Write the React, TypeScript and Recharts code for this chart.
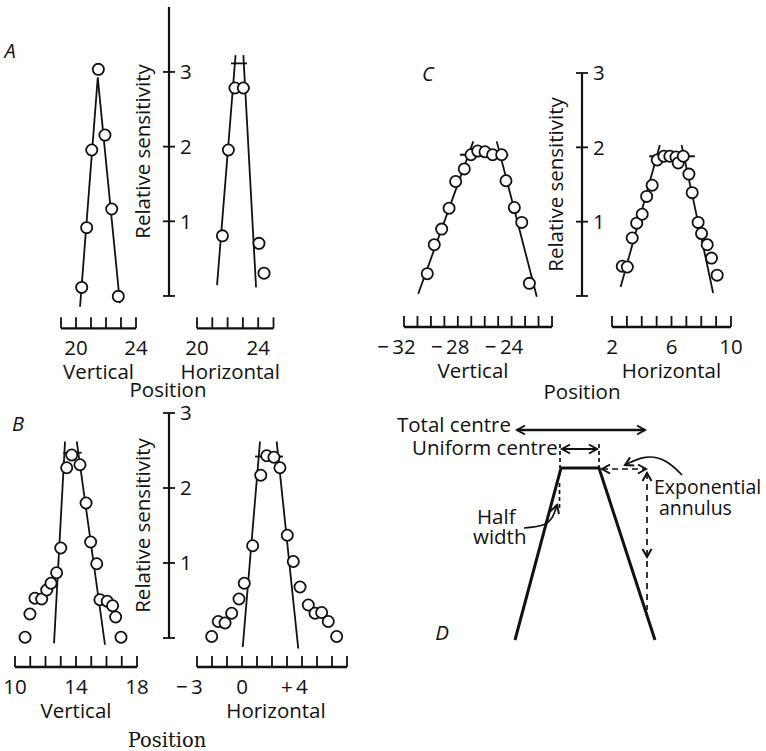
import React from 'react';
import { ComposedChart, Line, Scatter, XAxis, YAxis } from 'recharts';

const FONT = "'Open Sans', 'DejaVu Sans', sans-serif";
const SERIF = "'DejaVu Serif', serif";
const INK = '#111';
const FS = 20.5;

type Pt = { x: number; y: number };

// ---- panel A (position in deg, relative sensitivity) ----
const aVertPoints: Pt[] = [
  { x: 20.38, y: 0.12 }, { x: 20.71, y: 0.92 }, { x: 21.05, y: 1.96 }, { x: 21.49, y: 3.04 },
  { x: 21.93, y: 2.16 }, { x: 22.38, y: 1.17 }, { x: 22.82, y: 0.0 },
];
const aVertFits: Pt[][] = [
  [{ x: 20.27, y: -0.14 }, { x: 21.45, y: 2.93 }],
  [{ x: 21.45, y: 2.93 }, { x: 22.93, y: -0.09 }],
];
const aHorPoints: Pt[] = [
  { x: 21.66, y: 0.81 }, { x: 22.05, y: 1.96 }, { x: 22.48, y: 2.79 },
  { x: 23.03, y: 2.79 }, { x: 24.05, y: 0.71 }, { x: 24.38, y: 0.31 },
];
const aHorFits: Pt[][] = [
  [{ x: 21.31, y: 0.15 }, { x: 22.52, y: 3.23 }],
  [{ x: 23.03, y: 3.23 }, { x: 23.86, y: 0.12 }],
  [{ x: 22.22, y: 3.12 }, { x: 23.27, y: 3.12 }],
];
const aVertTicks = [19, 20, 21, 22, 23, 24];
const aVertLabels: Record<number, string> = { 20: '20', 24: '24' };
const aHorTicks = [20, 21, 22, 23, 24, 25];
const aHorLabels: Record<number, string> = { 20: '20', 24: '24' };

// ---- panel B ----
const bVertPoints: Pt[] = [
  { x: 10.66, y: 0.01 }, { x: 10.98, y: 0.32 }, { x: 11.31, y: 0.53 }, { x: 11.75, y: 0.52 },
  { x: 12.08, y: 0.64 }, { x: 12.36, y: 0.73 }, { x: 12.73, y: 0.87 }, { x: 13.0, y: 1.2 },
  { x: 13.39, y: 2.27 }, { x: 13.72, y: 2.44 }, { x: 14.26, y: 2.31 }, { x: 14.66, y: 1.8 },
  { x: 14.96, y: 1.28 }, { x: 15.36, y: 0.99 }, { x: 15.57, y: 0.51 }, { x: 16.05, y: 0.49 },
  { x: 16.4, y: 0.43 }, { x: 16.6, y: 0.28 }, { x: 16.95, y: 0.01 },
];
const bVertFits: Pt[][] = [
  [{ x: 12.56, y: -0.07 }, { x: 13.28, y: 2.62 }],
  [{ x: 14.05, y: 2.62 }, { x: 15.9, y: -0.09 }],
  [{ x: 13.17, y: 2.47 }, { x: 14.37, y: 2.47 }],
];
const bHorPoints: Pt[] = [
  { x: -2.02, y: 0.02 }, { x: -1.58, y: 0.22 }, { x: -1.13, y: 0.2 }, { x: -0.69, y: 0.33 },
  { x: -0.2, y: 0.52 }, { x: 0.15, y: 0.73 }, { x: 0.71, y: 1.23 }, { x: 1.25, y: 2.17 },
  { x: 1.65, y: 2.43 }, { x: 2.13, y: 2.41 }, { x: 2.53, y: 2.27 }, { x: 3.02, y: 1.37 },
  { x: 3.42, y: 1.02 }, { x: 3.87, y: 0.68 }, { x: 4.42, y: 0.44 }, { x: 4.87, y: 0.33 },
  { x: 5.31, y: 0.34 }, { x: 5.75, y: 0.22 }, { x: 6.31, y: 0.02 },
];
const bHorFits: Pt[][] = [
  [{ x: 0.05, y: -0.12 }, { x: 1.2, y: 2.62 }],
  [{ x: 2.31, y: 2.62 }, { x: 3.75, y: -0.14 }],
  [{ x: 0.87, y: 2.42 }, { x: 2.73, y: 2.42 }],
];
const bVertTicks = [10, 11, 12, 13, 14, 15, 16, 17, 18];
const bVertLabels: Record<number, string> = { 10: '10', 14: '14', 18: '18' };
const bHorTicks = [-3, -2, -1, 0, 1, 2, 3, 4, 5, 6, 7];
const bHorLabels: Record<number, string> = { [-3]: '−3', 0: '0', 4: '+4' };

// ---- panel C ----
const cVertPoints: Pt[] = [
  { x: -30.27, y: 0.3 }, { x: -29.75, y: 0.69 }, { x: -29.2, y: 0.9 }, { x: -28.65, y: 1.18 },
  { x: -28.16, y: 1.54 }, { x: -27.52, y: 1.71 }, { x: -27.02, y: 1.9 }, { x: -26.52, y: 1.95 },
  { x: -25.98, y: 1.94 }, { x: -25.41, y: 1.9 }, { x: -24.74, y: 1.9 }, { x: -24.42, y: 1.55 },
  { x: -23.8, y: 1.19 }, { x: -23.25, y: 0.99 }, { x: -22.68, y: 0.17 },
];
const cVertFits: Pt[][] = [
  [{ x: -30.94, y: 0.03 }, { x: -26.85, y: 2.08 }],
  [{ x: -25.11, y: 2.08 }, { x: -22.13, y: -0.01 }],
  [{ x: -27.84, y: 1.9 }, { x: -24.25, y: 1.9 }],
];
const cHorPoints: Pt[] = [
  { x: 2.69, y: 0.4 }, { x: 3.03, y: 0.39 }, { x: 3.36, y: 0.78 }, { x: 3.66, y: 0.98 },
  { x: 4.03, y: 1.1 }, { x: 4.33, y: 1.34 }, { x: 4.7, y: 1.49 }, { x: 5.04, y: 1.83 },
  { x: 5.49, y: 1.88 }, { x: 5.89, y: 1.88 }, { x: 6.3, y: 1.87 }, { x: 6.45, y: 1.79 },
  { x: 6.79, y: 1.88 }, { x: 7.17, y: 1.64 }, { x: 7.39, y: 1.39 }, { x: 7.79, y: 0.99 },
  { x: 8.02, y: 0.84 }, { x: 8.4, y: 0.69 }, { x: 8.69, y: 0.51 }, { x: 9.07, y: 0.28 },
];
const cHorFits: Pt[][] = [
  [{ x: 2.58, y: 0.12 }, { x: 5.22, y: 2.03 }],
  [{ x: 6.68, y: 2.03 }, { x: 8.8, y: 0.04 }],
  [{ x: 4.5, y: 1.88 }, { x: 7.57, y: 1.88 }],
];
const cVertTicks = [-32, -31, -30, -29, -28, -27, -26, -25, -24, -23, -22, -21];
const cVertLabels: Record<number, string> = { [-32]: '−32', [-28]: '−28', [-24]: '−24' };
const cHorTicks = [2, 3, 4, 5, 6, 7, 8, 9, 10];
const cHorLabels: Record<number, string> = { 2: '2', 6: '6', 10: '10' };

const sensTicks = [0, 1, 2, 3];

// ---- panel D (schematic, diagram units) ----
const dTrapezoid: Pt[] = [{ x: 125, y: 20 }, { x: 171, y: 192 }, { x: 209, y: 192 }, { x: 265, y: 20 }];
const dTotalShaft: Pt[] = [{ x: 127, y: 230 }, { x: 255, y: 230 }];
const dUniformShaft: Pt[] = [{ x: 172, y: 211 }, { x: 207, y: 211 }];
const dUniformEdges: Pt[][] = [
  [{ x: 170, y: 216 }, { x: 170, y: 192 }],
  [{ x: 209, y: 216 }, { x: 209, y: 192 }],
];
const dAnnulusH: Pt[] = [{ x: 212, y: 191 }, { x: 256, y: 191 }];
const dAnnulusV: Pt[] = [{ x: 257, y: 187 }, { x: 257, y: 50 }];
const dHalfDash: Pt[] = [{ x: 169.5, y: 177 }, { x: 169.5, y: 150 }];
const dExpCurve: Pt[] = [{ x: 292, y: 185 }, { x: 276, y: 201 }, { x: 255, y: 205 }, { x: 235, y: 195 }];
const dHalfCurve: Pt[] = [{ x: 134, y: 132 }, { x: 155, y: 134 }, { x: 163, y: 142 }, { x: 167, y: 155 }];
const dArrowHeads = [
  { x: 127, y: 230, angle: 180 }, { x: 255, y: 230, angle: 0 },
  { x: 172, y: 211, angle: 180 }, { x: 207, y: 211, angle: 0 },
  { x: 212, y: 191, angle: 180 }, { x: 256, y: 191, angle: 0 },
  { x: 257, y: 187, angle: -90 }, { x: 257, y: 103, angle: 90 },
  { x: 235, y: 195, angle: 153 }, { x: 167, y: 155, angle: -73 },
];
const dNotes = [
  { x: 7, y: 235, text: 'Total centre', anchor: 'start' },
  { x: 22, y: 212, text: 'Uniform centre', anchor: 'start' },
  { x: 264, y: 173, text: 'Exponential', anchor: 'start', size: 19.5 },
  { x: 269, y: 152, text: 'annulus', anchor: 'start', size: 19.5 },
  { x: 87, y: 143, text: 'Half', anchor: 'start' },
  { x: 83, y: 123, text: 'width', anchor: 'start' },
  { x: 52, y: 27, text: 'D', anchor: 'middle', italic: true },
];

const panelLetters = [
  { text: 'A', x: 10, y: 52 },
  { text: 'B', x: 18, y: 425 },
  { text: 'C', x: 428, y: 75 },
];

function RulerTick(props: any) {
  const { x, y, payload, labels } = props;
  const text: string | undefined = labels[payload.value];
  let label = null;
  if (text) {
    const signed = text[0] === '−' || text[0] === '+';
    const digits = signed ? text.slice(1) : text;
    const half = digits.length * FS * 0.285;
    label = (
      <text x={signed ? x + half : x} y={y + 27} textAnchor={signed ? 'end' : 'middle'}
        fontSize={FS} fontFamily={FONT} fill={INK}>
        {signed ? text[0] + '\u2009' + digits : text}
      </text>
    );
  }
  return (
    <g>
      <line x1={x} y1={y} x2={x} y2={y - 11} stroke={INK} strokeWidth={1.8} />
      {label}
    </g>
  );
}

function SensTick(props: any) {
  const { x, y, payload } = props;
  return (
    <g>
      <line x1={x - 6} y1={y} x2={x + 6} y2={y} stroke={INK} strokeWidth={1.8} />
      {payload.value > 0 && (
        <text x={x + 11} y={y} dy="0.36em" fontSize={FS} fontFamily={FONT} fill={INK}>{payload.value}</text>
      )}
    </g>
  );
}

function OpenCircle(props: any) {
  const { cx, cy } = props;
  return <circle cx={cx} cy={cy} r={5.6} fill="#fff" stroke={INK} strokeWidth={1.8} />;
}

function Blank() {
  return <g />;
}

function ArrowHead(props: any) {
  const { cx, cy, payload } = props;
  return (
    <path d="M -8 -4.5 L 0 0 L -8 4.5" transform={`translate(${cx},${cy}) rotate(${payload.angle})`}
      fill="none" stroke={INK} strokeWidth={2} />
  );
}

function NoteText(props: any) {
  const { cx, cy, payload } = props;
  return (
    <text x={cx} y={cy} dy="0.35em" textAnchor={payload.anchor} fontSize={payload.size ?? FS} fontFamily={FONT}
      fontStyle={payload.italic ? 'italic' : 'normal'} fill={INK}>
      {payload.text}
    </text>
  );
}

interface SubplotProps {
  left: number;
  rulerLen: number;
  y0: number;
  k: number;
  rulerY: number;
  yTop: number;
  domain: [number, number];
  ticks: number[];
  labels: Record<number, string>;
  caption: string;
  captionDx?: number;
  points: Pt[];
  fits: Pt[][];
}

function Subplot({ left, rulerLen, y0, k, rulerY, yTop, domain, ticks, labels, caption, captionDx = 0, points, fits }: SubplotProps) {
  const plotTop = y0 - yTop * k;
  const plotH = rulerY - plotTop;
  const yMin = -(rulerY - y0) / k;
  const m = { top: 12, right: 30, bottom: 6, left: 30 };
  const axisH = 52;
  return (
    <div style={{ position: 'absolute', left: left - m.left, top: plotTop - m.top }}>
      <ComposedChart width={rulerLen + m.left + m.right} height={plotH + axisH + m.top + m.bottom} margin={m}>
        <XAxis type="number" dataKey="x" domain={domain} ticks={ticks} interval={0} height={axisH}
          tickSize={0} tickMargin={0} tickLine={false} axisLine={{ stroke: INK, strokeWidth: 2.4 }}
          tick={<RulerTick labels={labels} />}
          label={{ value: caption, position: 'insideBottom', offset: 1, dx: captionDx, fill: INK, fontSize: FS, fontFamily: FONT }} />
        <YAxis type="number" dataKey="y" domain={[yMin, yTop]} hide />
        {fits.map((f, i) => (
          <Line key={i} data={f} dataKey="y" stroke={INK} strokeWidth={1.8} dot={false} isAnimationActive={false} />
        ))}
        <Scatter data={points} fill="#fff" shape={OpenCircle} isAnimationActive={false} />
      </ComposedChart>
    </div>
  );
}

interface SensAxisProps {
  axisX: number;
  y0: number;
  k: number;
  top: number;
  posH: number;
  posDx: number;
  serif?: boolean;
}

function SensAxis({ axisX, y0, k, top, posH, posDx, serif }: SensAxisProps) {
  const yw = 52;
  const m = { top: 20, right: 0, bottom: 6, left: 0 };
  const plotH = top * k;
  const anchors = sensTicks.map((v) => ({ x: 0.5, y: v }));
  return (
    <div style={{ position: 'absolute', left: axisX - yw, top: y0 - plotH - m.top }}>
      <ComposedChart width={yw * 2} height={plotH + posH + m.top + m.bottom} margin={m}>
        <XAxis type="number" dataKey="x" domain={[0, 1]} tick={false} axisLine={false} tickLine={false} height={posH}
          label={{ value: 'Position', position: 'insideBottom', offset: 0, dx: posDx, fill: INK,
            fontSize: serif ? 19.5 : FS, fontFamily: serif ? SERIF : FONT }} />
        <YAxis type="number" dataKey="y" domain={[0, top]} ticks={sensTicks} interval={0} width={yw}
          tickSize={0} tickMargin={0} tickLine={false} axisLine={{ stroke: INK, strokeWidth: 2.2 }}
          tick={<SensTick />}
          label={{ value: 'Relative sensitivity', angle: -90, position: 'center', fill: INK, fontSize: FS, fontFamily: FONT }} />
        <Scatter data={anchors} shape={Blank} isAnimationActive={false} />
      </ComposedChart>
    </div>
  );
}

function Schematic() {
  const dash = { stroke: INK, strokeWidth: 1.7, dot: false, isAnimationActive: false } as const;
  return (
    <div style={{ position: 'absolute', left: 390, top: 400 }}>
      <ComposedChart width={376} height={260} margin={{ top: 0, right: 0, bottom: 0, left: 0 }}>
        <XAxis type="number" dataKey="x" domain={[0, 376]} hide />
        <YAxis type="number" dataKey="y" domain={[0, 260]} hide />
        <Line data={dTrapezoid} dataKey="y" stroke={INK} strokeWidth={3} dot={false} isAnimationActive={false} />
        <Line data={dTotalShaft} dataKey="y" stroke={INK} strokeWidth={2.4} dot={false} isAnimationActive={false} />
        <Line data={dUniformShaft} dataKey="y" stroke={INK} strokeWidth={2.2} dot={false} isAnimationActive={false} />
        {dUniformEdges.map((e, i) => (
          <Line key={i} data={e} dataKey="y" {...dash} strokeDasharray="4 3" />
        ))}
        <Line data={dAnnulusH} dataKey="y" {...dash} strokeDasharray="6 4" />
        <Line data={dAnnulusV} dataKey="y" {...dash} strokeDasharray="6 5" />
        <Line data={dHalfDash} dataKey="y" {...dash} strokeDasharray="4 3" />
        <Line data={dExpCurve} dataKey="y" type="basis" {...dash} />
        <Line data={dHalfCurve} dataKey="y" type="basis" {...dash} />
        <Scatter data={dArrowHeads} shape={ArrowHead} isAnimationActive={false} />
        <Scatter data={dNotes} shape={NoteText} isAnimationActive={false} />
      </ComposedChart>
    </div>
  );
}

export default function App() {
  return (
    <div style={{ position: 'absolute', left: 0, top: 0, width: 766, height: 751, background: '#fff', fontFamily: FONT, color: INK }}>
      {panelLetters.map((p) => (
        <div key={p.text} style={{ position: 'absolute', left: p.x, top: p.y, transform: 'translate(-50%, -55%)',
          fontSize: 20, fontStyle: 'italic', lineHeight: 1 }}>{p.text}</div>
      ))}

      {/* A */}
      <Subplot left={61} rulerLen={75} y0={296} k={74.67} rulerY={328} yTop={3.5} domain={[19, 24]}
        ticks={aVertTicks} labels={aVertLabels} caption="Vertical" points={aVertPoints} fits={aVertFits} />
      <SensAxis axisX={169} y0={296} k={74.67} top={3.87} posH={101} posDx={-27} />
      <Subplot left={197} rulerLen={76.5} y0={296} k={74.67} rulerY={328} yTop={3.5} domain={[20, 25]}
        ticks={aHorTicks} labels={aHorLabels} caption="Horizontal" captionDx={-5} points={aHorPoints} fits={aHorFits} />

      {/* B */}
      <Subplot left={15} rulerLen={122} y0={638} k={75} rulerY={667} yTop={3} domain={[10, 18]}
        ticks={bVertTicks} labels={bVertLabels} caption="Vertical" points={bVertPoints} fits={bVertFits} />
      <SensAxis axisX={169} y0={638} k={75} top={3} posH={109} posDx={-28} serif />
      <Subplot left={197} rulerLen={150} y0={638} k={75} rulerY={667} yTop={3} domain={[-3, 7]}
        ticks={bHorTicks} labels={bHorLabels} caption="Horizontal" captionDx={4} points={bHorPoints} fits={bHorFits} />

      {/* C */}
      <Subplot left={404} rulerLen={148} y0={296} k={74.33} rulerY={327} yTop={3} domain={[-32, -21]}
        ticks={cVertTicks} labels={cVertLabels} caption="Vertical" captionDx={-5} points={cVertPoints} fits={cVertFits} />
      <SensAxis axisX={582} y0={296} k={74.33} top={3} posH={103} posDx={-26} />
      <Subplot left={612} rulerLen={119} y0={296} k={74.33} rulerY={327} yTop={3} domain={[2, 10]}
        ticks={cHorTicks} labels={cHorLabels} caption="Horizontal" points={cHorPoints} fits={cHorFits} />

      {/* D */}
      <Schematic />
    </div>
  );
}
